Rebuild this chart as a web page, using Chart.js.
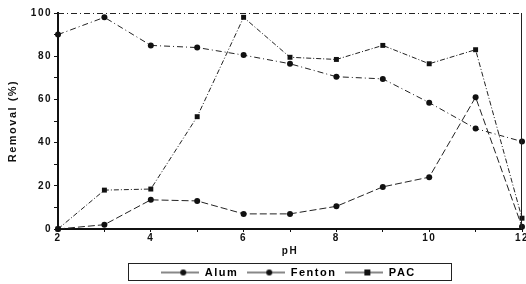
<!DOCTYPE html>
<html lang="en">
<head>
  <meta charset="UTF-8">
  <title>Removal vs pH</title>
  <style>
    body { margin: 0; background: #fff; }
  </style>
</head>
<body>
  <canvas id="grafico" width="526" height="284"></canvas>
  <script src="https://cdn.jsdelivr.net/npm/chart.js"></script>
  <script>
    const ph = ["2", "3", "4", "5", "6", "7", "8", "9", "10", "11", "12"];
    const alum = [0, 2, 13.5, 13, 7, 7, 10.5, 19.5, 24, 61, 1];
    const fenton = [90, 98, 85, 84, 80.5, 76.5, 70.5, 69.5, 58.5, 46.5, 40.5];
    const pac = [0, 18, 18.5, 52, 98, 79.5, 78.5, 85, 76.5, 83, 5];

    // little legend symbols: line with marker in the middle
    function simbolo(tipo) {
      const c = document.createElement('canvas');
      c.width = 38; c.height = 10;
      const g = c.getContext('2d');
      g.strokeStyle = '#111'; g.lineWidth = 1;
      g.beginPath(); g.moveTo(0, 5); g.lineTo(38, 5); g.stroke();
      g.fillStyle = '#111';
      if (tipo === 'rect') g.fillRect(19, 2, 6, 6);
      else { g.beginPath(); g.arc(22, 5, 3, 0, Math.PI * 2); g.fill(); }
      return c;
    }

    // canvas state is reset on resize, so set the spacing again before layout and draw
    const espaco = {
      id: 'espaco',
      beforeUpdate(chart) { chart.ctx.letterSpacing = '1.5px'; },
      beforeLayout(chart) { chart.ctx.letterSpacing = '1.5px'; },
      beforeDraw(chart) { chart.ctx.letterSpacing = '1.5px'; }
    };

    // legend sits under the plot centre, inside the framed box
    const moverLegenda = {
      id: 'moverLegenda',
      afterLayout(chart) {
        const l = chart.legend;
        l.left += 27; l.right += 27;
        l.top += 4; l.bottom += 4;
        const x = chart.scales.x;
        x.bottom += 3;
      }
    };

    const bordas = {
      id: 'bordas',
      afterDraw(chart) {
        const { ctx, chartArea: a } = chart;
        ctx.save();
        ctx.strokeStyle = '#222';
        ctx.lineWidth = 1;
        ctx.setLineDash([6, 3, 1, 3]);
        ctx.beginPath(); ctx.moveTo(a.left, a.top + 0.5); ctx.lineTo(a.right, a.top + 0.5); ctx.stroke();
        ctx.setLineDash([]);
        ctx.beginPath(); ctx.moveTo(a.right - 0.5, a.top); ctx.lineTo(a.right - 0.5, a.bottom); ctx.stroke();
        // legend frame
        ctx.strokeRect(128.5, 263.5, 323, 17);
        ctx.restore();
      }
    };

    const fonte = { family: 'Liberation Sans', size: 10, weight: 'bold' };

    new Chart(document.getElementById('grafico'), {
      type: 'line',
      data: {
        labels: ph,
        datasets: [
          { label: 'Alum', data: alum, borderDash: [7, 3], pointStyle: 'circle', pointRadius: 3 },
          { label: 'Fenton', data: fenton, borderDash: [6, 3, 1, 3], pointStyle: 'circle', pointRadius: 3 },
          { label: 'PAC', data: pac, borderDash: [5, 2, 1, 2], pointStyle: 'rect', pointRadius: 3.5 }
        ].map(d => Object.assign(d, {
          borderColor: '#222', backgroundColor: '#111', borderWidth: 1,
          pointBorderWidth: 0, tension: 0, clip: false
        }))
      },
      options: {
        responsive: false,
        animation: false,
        devicePixelRatio: 1,
        layout: { padding: { top: 13, right: 3, left: 0, bottom: 0 } },
        plugins: {
          tooltip: { enabled: false },
          legend: {
            position: 'bottom',
            labels: {
              color: '#111', font: { family: 'Liberation Sans', size: 11, weight: 'bold' },
              usePointStyle: true, pointStyleWidth: 38, padding: 9,
              generateLabels(chart) {
                return chart.data.datasets.map((d, i) => ({
                  text: d.label, pointStyle: simbolo(d.pointStyle), fillStyle: '#111',
                  strokeStyle: '#111', lineWidth: 0, datasetIndex: i, hidden: false
                }));
              }
            }
          }
        },
        scales: {
          x: {
            offset: false,
            border: { color: '#111', width: 2 },
            grid: { drawOnChartArea: false, color: '#111', tickLength: 3 },
            ticks: {
              color: '#111', font: fonte, padding: 0, maxRotation: 0, autoSkip: false,
              callback: (v, i) => (Number(ph[i]) % 2 === 0 ? ph[i] : '')
            },
            title: { display: true, text: 'pH', color: '#111', font: fonte, padding: { top: 1, bottom: 0 } },
            afterFit(s) { s.paddingRight = 3; s.height = 25; }
          },
          y: {
            min: 0, max: 100,
            border: { color: '#111', width: 2 },
            grid: { drawOnChartArea: false, color: '#111', tickLength: 4 },
            ticks: {
              stepSize: 10, color: '#111', font: fonte, padding: 2,
              callback: v => (v % 20 === 0 ? v : '')
            },
            title: { display: true, text: 'Removal (%)', color: '#111', font: { family: 'Liberation Sans', size: 11, weight: 'bold' }, padding: { top: 6, bottom: 2 } },
            afterFit(s) { s.width = 58; }
          }
        }
      },
      plugins: [espaco, moverLegenda, bordas]
    });
  </script>
</body>
</html>
